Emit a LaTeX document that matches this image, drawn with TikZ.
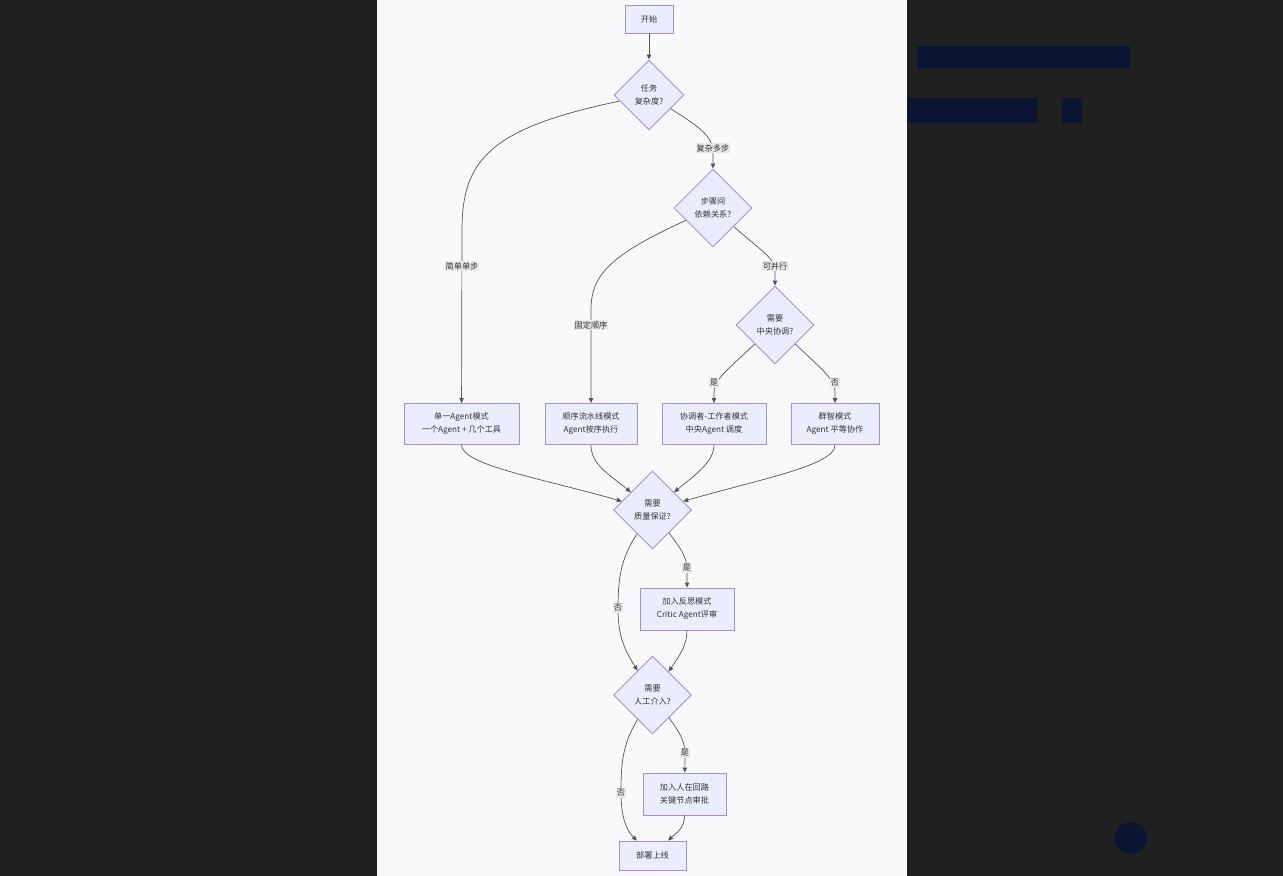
\documentclass[tikz,border=0pt]{standalone}
\usepackage{fontspec}
\setmainfont{Noto Sans CJK SC}
\usetikzlibrary{arrows.meta,shapes.geometric}

\definecolor{nodefill}{HTML}{ECECFF}
\definecolor{nodeline}{HTML}{A58BE3}
\definecolor{txt}{HTML}{333333}
\definecolor{edgecol}{HTML}{555555}
\definecolor{lblbg}{HTML}{E8E8E8}
\definecolor{panel}{HTML}{F8F9FB}
\definecolor{darkbg}{HTML}{202020}
\definecolor{navy}{HTML}{0B1430}

\tikzset{
  flowbox/.style={draw=nodeline,fill=nodefill,line width=0.9bp,text=txt,align=center,
    font=\fontsize{8.2}{13}\selectfont,inner sep=0},
  choice/.style={diamond,draw=nodeline,fill=nodefill,line width=0.9bp,text=txt,align=center,
    font=\fontsize{8.2}{13}\selectfont,inner sep=0,minimum width=78bp,minimum height=78bp},
  lbl/.style={fill=lblbg,text=txt,font=\fontsize{8.2}{10}\selectfont,inner sep=1bp},
  arr/.style={draw=edgecol,line width=0.7bp,-{Triangle[length=5bp,width=4.5bp]}}
}

\begin{document}
\begin{tikzpicture}[x=1bp,y=-1bp]%[line cap=round,line join=round]
\useasboundingbox (0,0) rectangle (1283,876);
\fill[darkbg] (0,0) rectangle (1283,876);
\fill[panel] (377,0) rectangle (907,876);
\fill[navy] (917,46) rectangle (1130,68);
\fill[navy] (907,98) rectangle (1037,123);
\fill[navy] (1062,98) rectangle (1082,123);
\fill[navy] (1131,838) circle (16);

\node[flowbox,minimum width=48bp,minimum height=28bp] (start) at (649,19) {开始};
\node[choice,minimum width=70bp,minimum height=70bp] (task) at (649,95) {任务\\复杂度?};
\node[choice] (dep) at (713,208) {步骤间\\依赖关系?};
\node[choice] (central) at (775,325) {需要\\中央协调?};

\node[flowbox,minimum width=115bp,minimum height=41bp] (single) at (461.5,424) {单一Agent模式\\一个Agent + 几个工具};
\node[flowbox,minimum width=92bp,minimum height=41bp] (pipe) at (591,424) {顺序流水线模式\\Agent按序执行};
\node[flowbox,minimum width=104bp,minimum height=41bp] (orch) at (714,424) {协调者-工作者模式\\中央Agent 调度};
\node[flowbox,minimum width=88bp,minimum height=41bp] (swarm) at (835,424) {群智模式\\Agent 平等协作};

\node[choice] (quality) at (652.5,510) {需要\\质量保证?};
\node[flowbox,minimum width=94bp,minimum height=42bp] (reflect) at (687,609) {加入反思模式\\Critic Agent评审};
\node[choice] (human) at (652.5,695) {需要\\人工介入?};
\node[flowbox,minimum width=83bp,minimum height=42bp] (loop) at (684.5,794) {加入人在回路\\关键节点审批};
\node[flowbox,minimum width=67bp,minimum height=29bp] (deploy) at (652.5,855.5) {部署上线};

\draw[arr] (start) -- (task);
\draw[arr] (task) .. controls (490,128) and (462,160) .. (462,230) -- (single);
\draw[arr] (task) .. controls (698,126) and (713,136) .. (713,152) -- (dep);
\draw[arr] (dep) .. controls (610,255) and (591,275) .. (591,310) -- (pipe);
\draw[arr] (dep) .. controls (760,250) and (775,258) .. (775,270) -- (central);
\draw[arr] (central) .. controls (725,372) and (714,380) .. (714,392) -- (orch);
\draw[arr] (central) .. controls (825,372) and (835,380) .. (835,392) -- (swarm);

\draw[arr] (single.south) .. controls (462,465) and (540,478) .. (quality);
\draw[arr] (pipe.south) .. controls (591,465) and (610,475) .. (quality);
\draw[arr] (orch.south) .. controls (714,462) and (695,475) .. (quality);
\draw[arr] (swarm.south) .. controls (835,465) and (765,478) .. (quality);

\draw[arr] (quality) .. controls (680,548) and (687,556) .. (687,570) -- (reflect);
\draw[arr] (quality) .. controls (620,560) and (618,580) .. (618,610) .. controls (618,640) and (628,655) .. (human);
\draw[arr] (reflect.south) .. controls (687,645) and (680,655) .. (human);

\draw[arr] (human) .. controls (680,733) and (685,741) .. (685,755) -- (loop);
\draw[arr] (human) .. controls (622,745) and (621,765) .. (621,793) .. controls (621,820) and (628,832) .. (deploy);
\draw[arr] (loop.south) .. controls (685,828) and (675,834) .. (deploy);

\node[lbl] (l1) at (713,148) {复杂多步};
\node[lbl] (l2) at (462,266) {简单单步};
\node[lbl] (l3) at (775,266) {可并行};
\node[lbl] (l4) at (591,325) {固定顺序};
\node[lbl] (l5) at (714,383) {是};
\node[lbl] (l6) at (835,383) {否};
\node[lbl] (l7) at (687,568) {是};
\node[lbl] (l8) at (618,608) {否};
\node[lbl] (l9) at (685,753) {是};
\node[lbl] (l10) at (621,793) {否};
\end{tikzpicture}
\end{document}
